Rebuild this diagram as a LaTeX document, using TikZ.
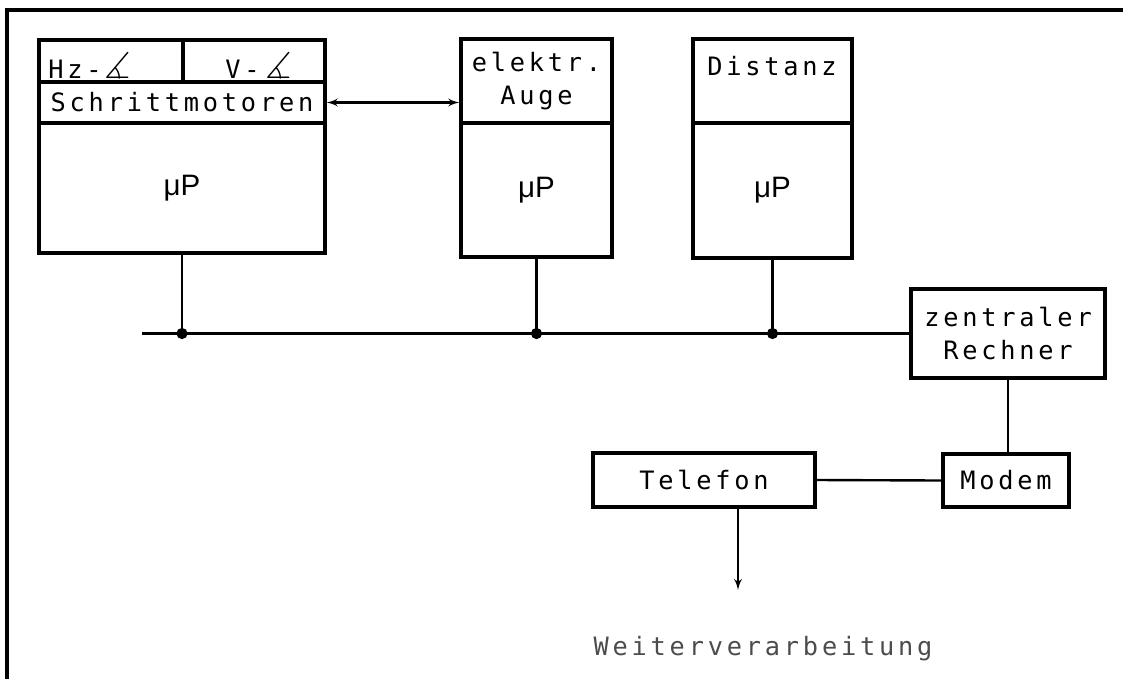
\documentclass[tikz,border=0pt]{standalone}
\usepackage{amsmath}
\usepackage{amssymb}
\usepackage{fontspec}
\usepackage{tikz}
\usetikzlibrary{arrows}
\usetikzlibrary{positioning}
\newfontfamily\typew[LetterSpace=15]{DejaVu Sans Mono}
\newfontfamily\mpfont{Liberation Sans}
\newcommand{\wink}{\scalebox{1.45}{$\boldsymbol{\measuredangle}$}}
\tikzset{cell/.style = {draw, line width=2.4pt, inner sep=0}}
\tikzset{wire/.style = {line width=1.7pt}}
\tikzset{circ/.style = {fill, circle, inner sep = 0, minimum size = 8pt}}
\tikzset{txt/.style = {font=\typew\fontsize{18}{23}\selectfont, align=center, inner sep=0}}
\tikzset{mp/.style = {font=\mpfont\fontsize{21}{24}\selectfont, inner sep=0}}
\tikzset{dblarrow/.style = {wire, latex'-latex'}}
\tikzset{outarrow/.style = {wire, -latex'}}

\begin{document}
\begin{tikzpicture}[x=0.025cm, y=-0.025cm]
      \useasboundingbox (0,0) rectangle (1123,679);
      \draw [line width=2.4pt] (1123,10) -- (7,10) -- (7,679);

      % Schrittmotoren
      \node [cell, minimum width=3.6cm, minimum height=1.05cm] (hz) at (111,61) {};
      \node [cell, minimum width=3.55cm, minimum height=1.05cm] (vv) at (254,61) {};
      \node [cell, txt, minimum width=7.15cm, minimum height=1.025cm] (sm) at (182,102.5) {Schrittmotoren};
      \node [cell, mp, minimum width=7.15cm, minimum height=3.25cm] (mp1) at (182,188) {μP};
      \node [txt, anchor=base west] (hztxt) at (48,78) {Hz-\hspace{2pt}\wink};
      \node [txt, anchor=base west] (vtxt) at (225,78) {V-\hspace{4pt}\wink};

      % elektr. Auge
      \node [cell, txt, minimum width=3.775cm, minimum height=2.1cm] (eye) at (536.5,81) {elektr.\\Auge};
      \node [cell, mp, minimum width=3.775cm, minimum height=3.35cm] (mp2) at (536.5,190) {μP};

      % Distanz
      \node [cell, minimum width=3.975cm, minimum height=2.1cm] (dist) at (772.5,81) {};
      \node [txt, anchor=base] (disttxt) at (772,75) {Distanz};
      \node [cell, mp, minimum width=3.975cm, minimum height=3.375cm] (mp3) at (772.5,190.5) {μP};

      \node [cell, txt, minimum width=4.85cm, minimum height=2.225cm] (rech) at (1008,333.5) {zentraler\\Rechner};
      \node [cell, txt, minimum width=3.15cm, minimum height=1.325cm] (modem) at (1006,480.5) {Modem};
      \node [cell, txt, minimum width=5.55cm, minimum height=1.35cm] (tel) at (704,480) {Telefon};
      \node [txt, text=black!70, anchor=base] (weiter) at (763,655) {Weiterverarbeitung};

      \coordinate (busl) at (142,333.5);
      \coordinate (out) at (738,590);

      \draw [wire] (busl) -- (rech.west);
      \draw [wire] (mp1.south) -- (mp1.south |- busl) node [circ] (j1) {};
      \draw [wire] (mp2.south) -- (mp2.south |- busl) node [circ] (j2) {};
      \draw [wire] (mp3.south) -- (mp3.south |- busl) node [circ] (j3) {};
      \draw [dblarrow] (sm.east) -- (sm.east -| eye.west);
      \draw [wire] (rech.south) -- (rech.south |- modem.north);
      \draw [wire] (tel.east) -- (modem.west);
      \draw [outarrow] (tel.south -| out) -- (out);
\end{tikzpicture}
\end{document}
